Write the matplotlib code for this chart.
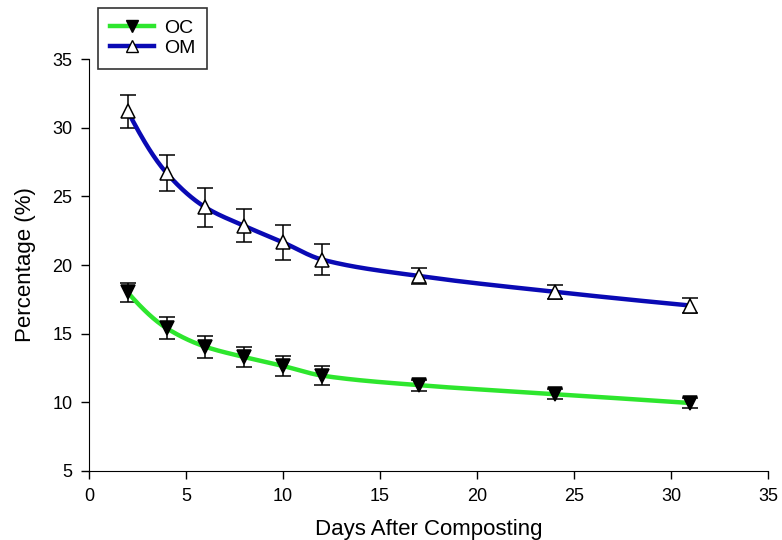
import numpy as np
import matplotlib
matplotlib.use("Agg")
import matplotlib.pyplot as plt
from matplotlib.lines import Line2D

plt.rcParams['font.family'] = ['Liberation Sans', 'DejaVu Sans']

days = [2, 4, 6, 8, 10, 12, 17, 24, 31]
oc = [18.0, 15.4, 14.05, 13.3, 12.65, 11.95, 11.25, 10.6, 9.95]
oc_err = [0.7, 0.8, 0.8, 0.7, 0.75, 0.7, 0.4, 0.35, 0.35]
om = [31.2, 26.7, 24.2, 22.85, 21.65, 20.4, 19.2, 18.05, 17.05]
om_err = [1.2, 1.3, 1.4, 1.2, 1.25, 1.15, 0.55, 0.5, 0.55]


def pchip(x, y, n=400):
    x = np.asarray(x, float)
    y = np.asarray(y, float)
    h = np.diff(x)
    d = np.diff(y) / h
    m = np.zeros_like(y)
    for k in range(1, len(x) - 1):
        if d[k - 1] * d[k] <= 0:
            m[k] = 0
        else:
            w1 = 2 * h[k] + h[k - 1]
            w2 = h[k] + 2 * h[k - 1]
            m[k] = (w1 + w2) / (w1 / d[k - 1] + w2 / d[k])
    m[0] = ((2 * h[0] + h[1]) * d[0] - h[0] * d[1]) / (h[0] + h[1])
    if np.sign(m[0]) != np.sign(d[0]):
        m[0] = 0
    m[-1] = ((2 * h[-1] + h[-2]) * d[-1] - h[-1] * d[-2]) / (h[-1] + h[-2])
    if np.sign(m[-1]) != np.sign(d[-1]):
        m[-1] = 0
    xs = np.linspace(x[0], x[-1], n)
    ys = np.empty_like(xs)
    for j, xv in enumerate(xs):
        i = min(np.searchsorted(x, xv, side='right') - 1, len(x) - 2)
        t = (xv - x[i]) / h[i]
        h00 = 2 * t ** 3 - 3 * t ** 2 + 1
        h10 = t ** 3 - 2 * t ** 2 + t
        h01 = -2 * t ** 3 + 3 * t ** 2
        h11 = t ** 3 - t ** 2
        ys[j] = h00 * y[i] + h10 * h[i] * m[i] + h01 * y[i + 1] + h11 * h[i] * m[i + 1]
    return xs, ys


fig = plt.figure(figsize=(7.82, 5.40), dpi=100)
ax = fig.add_axes([0.1138, 0.1278, 0.8682, 0.7629])

green = '#2ee62e'
blue = '#0a0ab4'

for y, e, col, mk, fc in [(oc, oc_err, green, 'v', 'black'), (om, om_err, blue, '^', 'white')]:
    ax.errorbar(days, y, yerr=e, fmt='none', ecolor='black', elinewidth=1.1,
                capsize=6, capthick=1.1, zorder=2)
    xs, ys = pchip(days, y)
    ax.plot(xs, ys, color=col, lw=3.2, zorder=3, solid_capstyle='round')
    ax.plot(days, y, linestyle='none', marker=mk, markersize=10,
            markerfacecolor=fc, markeredgecolor='black', markeredgewidth=1.1, zorder=4)

ax.set_xlim(0, 35)
ax.set_ylim(5, 35)
ax.set_xticks(range(0, 36, 5))
ax.set_yticks(range(5, 36, 5))
ax.spines['top'].set_visible(False)
ax.spines['right'].set_visible(False)
ax.tick_params(direction='out', length=6, width=1, labelsize=13, pad=6)
ax.set_xlabel('Days After Composting', fontsize=16, labelpad=10)
ax.set_ylabel('Percentage (%)', fontsize=16, labelpad=12)

handles = [
    Line2D([], [], color=green, lw=3.2, marker='v', markersize=9,
           markerfacecolor='black', markeredgecolor='black'),
    Line2D([], [], color=blue, lw=3.2, marker='^', markersize=9,
           markerfacecolor='white', markeredgecolor='black'),
]
leg = fig.legend(handles, ['OC', 'OM'], loc='upper left',
                 bbox_to_anchor=(98 / 782, 1 - 8 / 540), fontsize=14,
                 frameon=True, fancybox=False, edgecolor='black',
                 handlelength=2.3, borderpad=0.6, labelspacing=0.1,
                 handletextpad=0.5, borderaxespad=0)
leg.get_frame().set_linewidth(1.2)

fig.savefig('out.png', dpi=100)
